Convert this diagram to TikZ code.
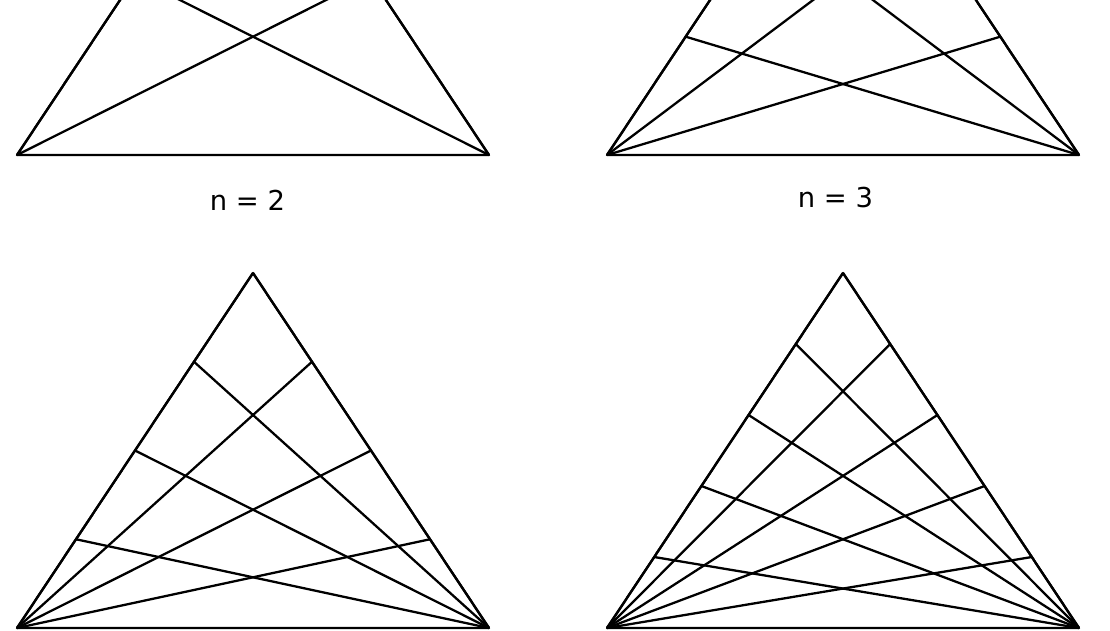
\documentclass[tikz,border=0pt]{standalone}
\usepackage{fontspec}
\setmainfont{DejaVu Sans}
\usetikzlibrary{calc}

\tikzset{
  edge/.style = {line width=1.3pt, line join=round},
  caption/.style = {font=\fontsize{15.6}{18}\selectfont}
}

\begin{document}
\begin{tikzpicture}[x=0.02cm, y=-0.02cm]
  \useasboundingbox (0,0) rectangle (1110,630);
  \clip (0,0) rectangle (1110,630);

  % one triangle for each n: corners, sides and the cevians
  \foreach \n/\dx/\by in {2/0/155, 3/590/155, 4/0/628, 5/590/628} {
    \coordinate (left) at (17+\dx, \by);
    \coordinate (right) at (489+\dx, \by);
    \coordinate (top) at (253+\dx, \by-355);
    \draw[edge] (left) -- (right) -- (top) -- cycle;
    \foreach \i in {1,...,\n} {
      \coordinate (p\i) at ($(right)!\i/\n!(top)$);
      \coordinate (q\i) at ($(left)!\i/\n!(top)$);
      \draw[edge] (left) -- (p\i);
      \draw[edge] (right) -- (q\i);
    }
  }

  % labels
  \node[caption] (label2) at (247.5, 200) {n = 2};
  \node[caption] (label3) at (835.5, 198) {n = 3};
\end{tikzpicture}
\end{document}
